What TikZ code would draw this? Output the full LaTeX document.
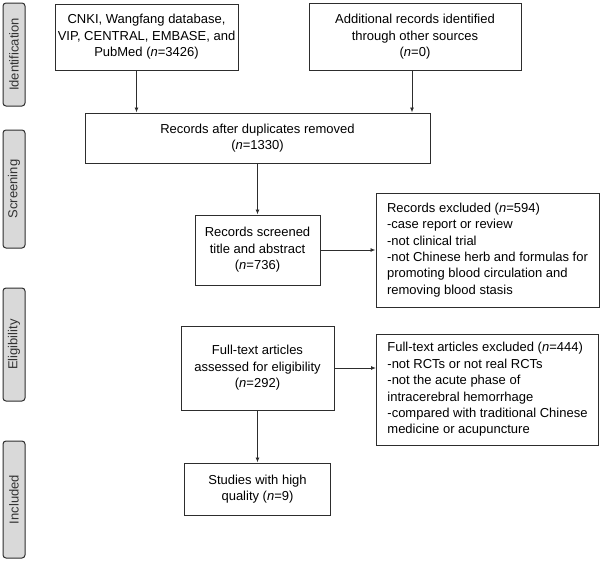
\documentclass[tikz,border=0pt]{standalone}
\usepackage{fontspec}
\setmainfont{Liberation Sans}
\usetikzlibrary{arrows.meta, positioning}
\definecolor{stage_gray}{RGB}{217, 217, 217}
\definecolor{line_gray}{RGB}{45, 45, 45}
\tikzset {
  box/.style = {draw=line_gray, line width=1pt, rectangle, fill=white, align=center, inner sep=2pt},
  listbox/.style = {box, align=left},
  stage/.style = {draw=line_gray, line width=1pt, rectangle, rounded corners=3pt, fill=stage_gray, rotate=90, minimum height=22pt, inner sep=0pt, text=black!80},
  line/.style = {-{Latex[length=5pt, width=4pt]}, line width=0.9pt, color=line_gray}
}

\begin{document}
\begin{tikzpicture}[x=1pt, y=1pt, font=\fontsize{13}{16.4}\selectfont]
    \useasboundingbox (0,0) rectangle (600,-562);

    % phases on the left
    \node[stage, minimum width=103pt] (ident) at (14,-54.5) {Identification};
    \node[stage, minimum width=118pt] (screening) at (14,-189) {Screening};
    \node[stage, minimum width=113pt] (elig) at (14,-344.5) {Eligibility};
    \node[stage, minimum width=117pt] (incl) at (14,-499.5) {Included};

    \node[box, minimum width=183pt, minimum height=66pt] (cnki) at (146.5,-37) {CNKI, Wangfang database,\\VIP, CENTRAL, EMBASE, and\\PubMed (\textit{n}=3426)};
    \node[box, minimum width=212pt, minimum height=67pt, right=70pt of cnki] (extra) {Additional records identified\\through other sources\\(\textit{n}=0)};
    \node[box, minimum width=345pt, minimum height=50pt] (dupl) at (257.5,-138) {Records after duplicates removed\\(\textit{n}=1330)};
    \node[box, minimum width=125pt, minimum height=70pt, below=51pt of dupl] (screen) {Records screened\\title and abstract\\(\textit{n}=736)};
    \node[listbox, minimum width=223pt, minimum height=114pt, right=55pt of screen] (excl1) {Records excluded (\textit{n}=594)\\-case report or review\\-not clinical trial\\-not Chinese herb and formulas for\\promoting blood circulation and\\removing blood stasis};
    \node[box, minimum width=153pt, minimum height=84pt, below=40pt of screen] (full) {Full-text articles\\assessed for eligibility\\(\textit{n}=292)};
    \node[listbox, minimum width=222pt, minimum height=111pt, below=26pt of excl1] (excl2) {Full-text articles excluded (\textit{n}=444)\\-not RCTs or not real RCTs\\-not the acute phase of\\intracerebral hemorrhage\\-compared with traditional Chinese\\medicine or acupuncture};
    \node[box, minimum width=146pt, minimum height=52pt, below=52pt of full] (study) {Studies with high\\quality (\textit{n}=9)};

    \draw[line] ([xshift=-10pt]cnki.south) -- ([xshift=-10pt]cnki.south |- dupl.north);
    \draw[line] ([xshift=-3pt]extra.south) -- ([xshift=-3pt]extra.south |- dupl.north);
    \draw[line] (dupl.south) -- (screen.north);
    \draw[line] (screen.east) -- (excl1.west);
    \draw[line] (full.east) -- (full.east -| excl2.west);
    \draw[line] (full.south) -- (study.north);

\end{tikzpicture}
\end{document}
